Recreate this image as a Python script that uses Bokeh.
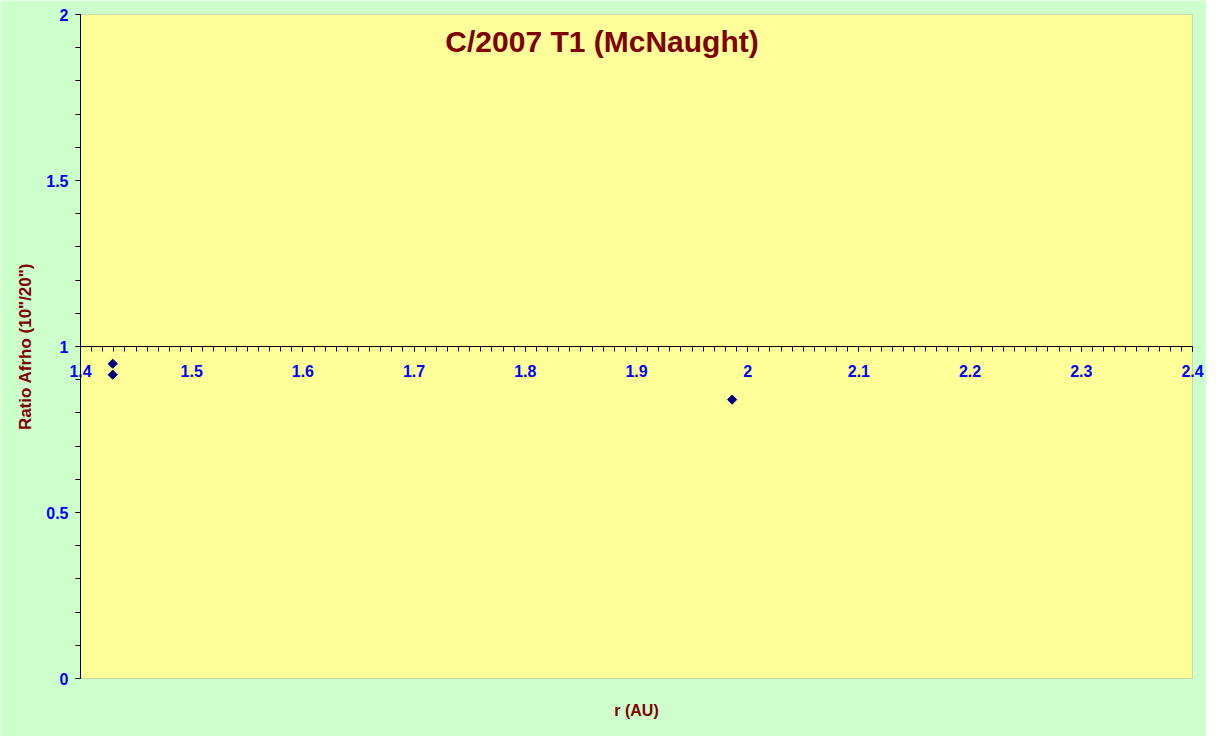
import numpy as np
from bokeh.plotting import figure
from bokeh.models import FixedTicker, Label, LinearAxis, BoxAnnotation, ColumnDataSource
from bokeh.embed import file_html
from bokeh.resources import INLINE

# Data
r_au = [1.429, 1.429, 1.986]
ratio_afrho = [0.948, 0.915, 0.840]

x_major = [1.4, 1.5, 1.6, 1.7, 1.8, 1.9, 2.0, 2.1, 2.2, 2.3, 2.4]
x_labels = ["1.4", "1.5", "1.6", "1.7", "1.8", "1.9", "2", "2.1", "2.2", "2.3", "2.4"]
y_major = [0, 0.5, 1, 1.5, 2]
y_labels = ["0", "0.5", "1", "1.5", "2"]
x_min, x_max = 1.4, 2.4
y_min, y_max = 0, 2
x_cross = 1  # y value where the x axis crosses

title_text = "C/2007 T1 (McNaught)"
x_title = "r (AU)"
y_title = "Ratio Afrho (10\"/20\")"

FONT = "Liberation Sans"
DARKRED = "#800000"
BLUE = "#0000FF"
GREEN = "#CCFFCC"
YELLOW = "#FFFF99"

# Layout (pixels): canvas and the yellow plot area inside it
W, H = 1206, 736
PAD_L, PAD_R, PAD_T, PAD_B = 80, 14, 14, 58
px_x = (W - PAD_L - PAD_R) / (x_max - x_min)
px_y = (H - PAD_T - PAD_B) / (y_max - y_min)
xr = (x_min - PAD_L / px_x, x_max + PAD_R / px_x)
yr = (y_min - PAD_B / px_y, y_max + PAD_T / px_y)

p = figure(width=W, height=H, x_range=xr, y_range=yr,
           output_backend="svg", toolbar_location=None,
           x_axis_location=None, y_axis_location=None,
           background_fill_color=GREEN, border_fill_color=GREEN,
           min_border=0)
p.outline_line_color = None
p.grid.visible = False

# Yellow plot area
p.add_layout(BoxAnnotation(left=x_min, right=x_max, bottom=y_min, top=y_max,
                           fill_color=YELLOW, fill_alpha=1.0,
                           line_color="#808080", line_width=1, level="underlay"))

# X axis crossing at y = 1
xa = LinearAxis(fixed_location=x_cross, bounds=(x_min, x_max))
xa.ticker = FixedTicker(ticks=x_major, minor_ticks=list(np.round(np.arange(1.4, 2.4001, 0.01), 2)))
xa.major_label_overrides = {v: l for v, l in zip(x_major, x_labels)}
xa.major_tick_in = 0
xa.major_tick_out = 5
xa.minor_tick_in = 0
xa.minor_tick_out = 5
xa.axis_line_color = "black"
xa.major_label_text_color = BLUE
xa.major_label_text_font = FONT
xa.major_label_text_font_style = "bold"
xa.major_label_text_font_size = "16px"
xa.major_label_standoff = 13
p.add_layout(xa, "below")

# Y axis at x = 1.4
ya = LinearAxis(fixed_location=x_min, bounds=(y_min, y_max))
ya.ticker = FixedTicker(ticks=y_major, minor_ticks=list(np.round(np.arange(0, 2.0001, 0.1), 2)))
ya.major_label_overrides = {v: l for v, l in zip(y_major, y_labels)}
ya.major_tick_in = 0
ya.major_tick_out = 5
ya.minor_tick_in = 0
ya.minor_tick_out = 5
ya.axis_line_color = "black"
ya.major_label_text_color = BLUE
ya.major_label_text_font = FONT
ya.major_label_text_font_style = "bold"
ya.major_label_text_font_size = "16px"
ya.major_label_standoff = 7
ya.axis_label = y_title
ya.axis_label_text_color = DARKRED
ya.axis_label_text_font = FONT
ya.axis_label_text_font_style = "bold"
ya.axis_label_text_font_size = "17px"
ya.axis_label_standoff = 8
p.add_layout(ya, "left")

# Axis title below the plot area
p.add_layout(Label(x=(x_min + x_max) / 2, y=y_min, y_offset=-32, text=x_title,
                   text_align="center", text_baseline="middle",
                   text_color=DARKRED, text_font=FONT, text_font_style="bold",
                   text_font_size="16px"))

# Chart title
p.add_layout(Label(x=1.869, y=1.92, text=title_text, text_align="center", text_baseline="middle",
                   text_color=DARKRED, text_font=FONT, text_font_style="bold", text_font_size="30px"))

src = ColumnDataSource(dict(x=r_au, y=ratio_afrho))
p.scatter("x", "y", source=src, marker="square", angle=np.pi / 4, size=6.5,
          fill_color="#000080", line_color="#000080")

open("out.html", "w").write(file_html(p, INLINE))
